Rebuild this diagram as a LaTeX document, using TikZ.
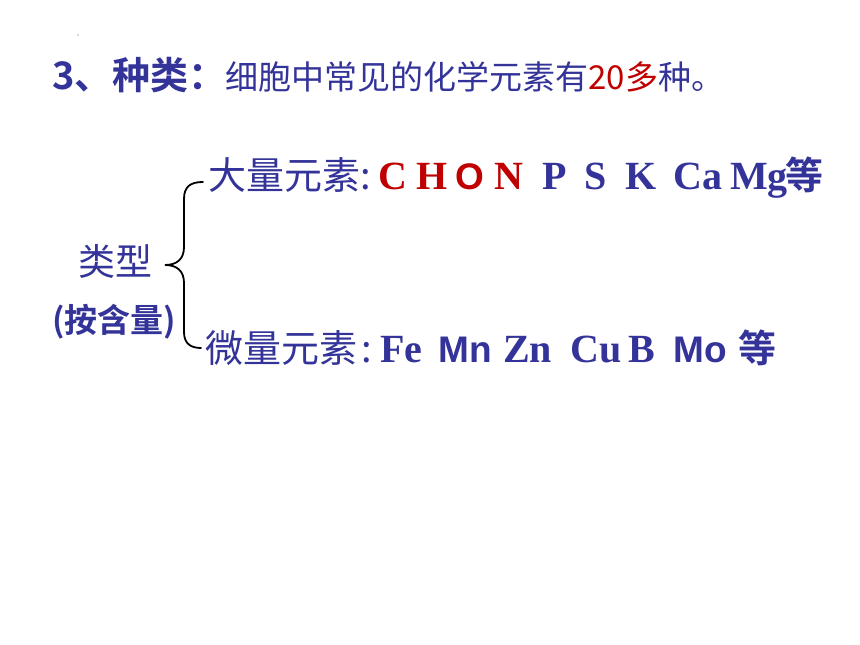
\documentclass[tikz,border=0pt]{standalone}
\usepackage{fontspec}
\setmainfont{Liberation Serif}
\newfontfamily\cjk{Noto Sans CJK SC}
\newfontfamily\cjkbold{Noto Sans CJK SC Bold}
\newfontfamily\arialfont{Liberation Sans}
\usetikzlibrary{positioning}
\definecolor{slideblue}{RGB}{51,51,153}
\definecolor{slidered}{RGB}{192,0,0}

\tikzset{
  txt/.style={anchor=base west, inner sep=0pt, text=slideblue},
  zh/.style={txt, font=\cjk\fontsize{38}{40}\selectfont},
  zhbold/.style={txt, font=\cjkbold\fontsize{38}{40}\selectfont},
  serif/.style={txt, font=\fontsize{40}{42}\selectfont\bfseries},
  sans/.style={txt, font=\arialfont\fontsize{37}{40}\selectfont\bfseries},
  bracestyle/.style={black, line width=1.8pt, line cap=round}
}

\begin{document}
\begin{tikzpicture}[x=1pt, y=1pt]
\useasboundingbox (0,0) rectangle (860,645);
\fill[gray!60] (78,610) circle (0.8pt);

% title line
\node[zhbold] (head) at (52,555) {3、种类：};
\node[zh, font=\cjk\fontsize{33}{36}\selectfont] (headtxt) at (225,555) {细胞中常见的化学元素有};
\node[zh, font=\cjk\fontsize{33}{36}\selectfont, text=slidered] (twenty) at (headtxt.base east) {20多};
\node[zh, font=\cjk\fontsize{33}{36}\selectfont] (kinds) at (twenty.base east) {种。};

% left labels
\node[zh, font=\cjk\fontsize{37}{40}\selectfont] (type) at (78,369) {类型};
\node[zhbold, font=\cjkbold\fontsize{33}{36}\selectfont] (bycontent) at (52,312) {(按含量)};

% brace
\coordinate (btop) at (203,463);
\coordinate (btip) at (165,380);
\coordinate (bbot) at (201,297);
\draw[bracestyle] (btop) .. controls (190,463) and (184,458) .. (184,446) -- (184,398)
  .. controls (184,386) and (177,380) .. (btip)
  .. controls (177,380) and (184,374) .. (184,362) -- (184,313)
  .. controls (184,302) and (190,297) .. (bbot);

% macro elements
\node[zh] (macro) at (208,455) {大量元素:};
\foreach \x/\el/\st in {378/C/serif, 416/H/serif, 455/O/sans, 494/N/serif}
  \node[\st, text=slidered] (big\el) at (\x,455) {\el};
\foreach \x/\el/\st in {542/P/serif, 584/S/serif, 625/K/serif, 673/Ca/serif, 730/Mg/serif}
  \node[\st] (big\el) at (\x,455) {\el};
\node[zhbold] (bigetc) at (785,455) {等};

% trace elements
\node[zh] (trace) at (205,282) {微量元素};
\node[zh] (tracecolon) at (361,282) {:};
\foreach \x/\el/\st in {380/Fe/serif, 438/Mn/sans, 503/Zn/serif, 570/Cu/serif, 628/B/serif, 673/Mo/sans}
  \node[\st] (tr\el) at (\x,282) {\el};
\node[zhbold] (tretc) at (738,282) {等};
\end{tikzpicture}
\end{document}
